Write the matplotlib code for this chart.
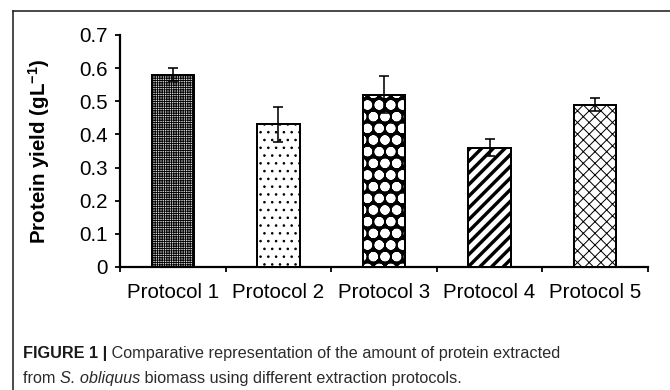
import matplotlib
matplotlib.use("Agg")
import matplotlib.pyplot as plt
from matplotlib.lines import Line2D
from matplotlib.ticker import FixedLocator

DPI = 140
W, H = 670, 390


def pt(px):
    return px * 72.0 / DPI


plt.rcParams['font.family'] = ['Liberation Sans', 'DejaVu Sans']
plt.rcParams['mathtext.fontset'] = 'custom'
plt.rcParams['mathtext.rm'] = 'Liberation Sans'
plt.rcParams['mathtext.bf'] = 'Liberation Sans:bold'
plt.rcParams['mathtext.it'] = 'Liberation Sans:italic'

# ---- data ----
categories = ["Protocol 1", "Protocol 2", "Protocol 3", "Protocol 4", "Protocol 5"]
yields = [0.58, 0.43, 0.52, 0.36, 0.49]
errors = [0.02, 0.053, 0.055, 0.026, 0.02]
y_ticks = [0, 0.1, 0.2, 0.3, 0.4, 0.5, 0.6, 0.7]
y_tick_labels = ["0", "0.1", "0.2", "0.3", "0.4", "0.5", "0.6", "0.7"]
y_label = r"Protein yield (gL$^{\mathbf{-1}}$)"

# ---- styles ----
# (face, hatch colour, hatch, hatch linewidth px)
styles = [
    ("#d8d8d8", "black", "+" * 10, 0.9),
    ("white", "black", "...", 1.0),
    ("black", "white", "oo", 4.6),
    ("white", "black", "////", 3.4),
    ("white", "black", "xxxx", 1.0),
]

fig = plt.figure(figsize=(W / DPI, H / DPI), dpi=DPI)
ax = fig.add_axes([120 / W, (H - 267) / H, 528 / W, 232 / H])

x = list(range(len(categories)))
bw = 0.4
for i, (face, hcol, hatch, hlw) in enumerate(styles):
    if face == "black":
        ax.bar(x[i], yields[i], width=bw, color="black", linewidth=0, zorder=2)
        b = ax.bar(x[i], yields[i], width=bw, facecolor="none", edgecolor=hcol,
                   hatch=hatch, linewidth=0, zorder=3)
    else:
        b = ax.bar(x[i], yields[i], width=bw, facecolor=face, edgecolor=hcol,
                   hatch=hatch, linewidth=0, zorder=3)
    for p in b.patches:
        if hasattr(p, "set_hatch_linewidth"):
            p.set_hatch_linewidth(pt(hlw))
    ax.bar(x[i], yields[i], width=bw, facecolor="none", edgecolor="black",
           linewidth=pt(2.0), zorder=4)

ax.errorbar(x, yields, yerr=errors, fmt="none", ecolor="black",
            elinewidth=pt(1.6), capsize=pt(4.5), capthick=pt(1.6), zorder=5)

ax.set_xlim(-0.5, len(categories) - 0.5)
ax.set_ylim(0, 0.7)
ax.set_yticks(y_ticks)
ax.set_yticklabels(y_tick_labels)
ax.set_xticks(x)
ax.set_xticklabels(categories)
ax.xaxis.set_minor_locator(FixedLocator([i - 0.5 for i in range(len(categories) + 1)]))

for s in ["top", "right"]:
    ax.spines[s].set_visible(False)
for s in ["left", "bottom"]:
    ax.spines[s].set_linewidth(pt(2.2))

fs = pt(20.5)
ax.tick_params(axis="y", which="major", direction="out", length=pt(5),
               width=pt(1.8), pad=pt(7), labelsize=fs, colors="black")
ax.tick_params(axis="x", which="major", length=0, pad=pt(16), labelsize=fs)
ax.tick_params(axis="x", which="minor", direction="out", length=pt(5),
               width=pt(1.8))

ax.set_ylabel(y_label, fontsize=pt(20.5), fontweight="bold")
ax.yaxis.set_label_coords(-0.128, 0.5)

# ---- frame lines ----
fig.add_artist(Line2D([13 / W, 13 / W], [1 - 11 / H, 0], color="#222222",
                      linewidth=pt(1.6), transform=fig.transFigure))
fig.add_artist(Line2D([13 / W, 1], [1 - 11 / H, 1 - 11 / H], color="#222222",
                      linewidth=pt(1.6), transform=fig.transFigure))

# ---- caption ----
cfam = ["Liberation Sans Narrow", "Liberation Sans", "DejaVu Sans"]
cfs = pt(16.2)
ccol = "#2b2b2b"
t1 = fig.text(23 / W, 1 - 358 / H, "FIGURE 1 |", fontsize=cfs, fontweight="bold",
              family=cfam, color="#1a1a1a", va="baseline")
ax.annotate(" Comparative representation of the amount of protein extracted",
            xy=(1, 0), xycoords=t1, va="bottom", ha="left", fontsize=cfs,
            family=cfam, color=ccol, annotation_clip=False)
t3 = fig.text(23 / W, 1 - 383 / H, "from ", fontsize=cfs, family=cfam,
              color=ccol, va="baseline")
t4 = ax.annotate("S. obliquus", xy=(1, 0), xycoords=t3, va="bottom", ha="left",
                 fontsize=cfs, family=cfam, style="italic", color=ccol,
                 annotation_clip=False)
ax.annotate(" biomass using different extraction protocols.", xy=(1, 0),
            xycoords=t4, va="bottom", ha="left", fontsize=cfs, family=cfam,
            color=ccol, annotation_clip=False)

fig.savefig("out.png", dpi=DPI)
